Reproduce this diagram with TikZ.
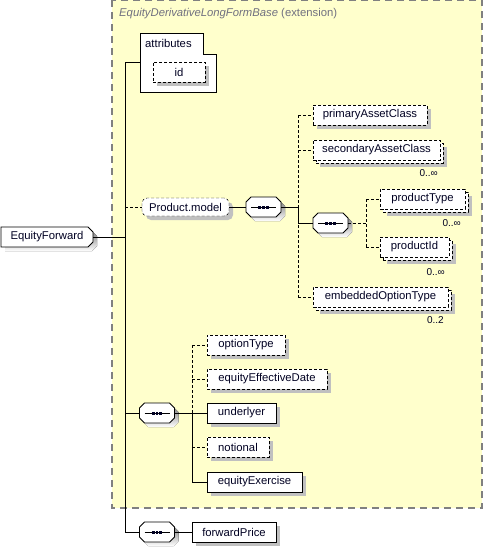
\documentclass[tikz,border=0pt]{standalone}
\usepackage{fontspec}
\setmainfont{Liberation Sans}
\usetikzlibrary{shadows}
\definecolor{shade}{HTML}{C0C0C0}
\definecolor{extfill}{HTML}{FFFFCC}
\definecolor{extline}{HTML}{808080}
\definecolor{titlegray}{HTML}{707080}
\definecolor{txt}{HTML}{000022}
\tikzset{
  base/.style={font=\fontsize{11.3}{13}\selectfont, text=txt, inner sep=0pt, minimum height=20pt},
  dotline/.style={dash pattern=on 3pt off 2pt},
  sh/.style={general shadow={fill=shade, shadow xshift=4pt, shadow yshift=-4pt}},
  elem/.style={base, rectangle, draw, fill=white, sh},
  optelem/.style={elem, dotline},
  multelem/.style={base, rectangle, draw, dotline, fill=white,
    general shadow={fill=shade, shadow xshift=7pt, shadow yshift=-7pt},
    general shadow={draw, dotline, fill=white, shadow xshift=3pt, shadow yshift=-3pt}},
  compbox/.style={base, rectangle, minimum width=35pt},
  outline/.style={draw, fill=white, line width=0.8pt},
  mult/.style={font=\fontsize{10}{12}\selectfont, text=txt, inner sep=0pt, anchor=east},
  conn/.style={line width=0.8pt},
  optconn/.style={conn, dotline}
}
% compositor (sequence) symbol: name, x, y
\newcommand\seqcomp[3]{%
  \begin{scope}[shift={(#2+4,#3+4)}]
    \fill[shade] (-12.5,-10) -- (12.5,-10) -- (17.5,-5) -- (17.5,5) -- (12.5,10) -- (-12.5,10) -- (-17.5,5) -- (-17.5,-5) -- cycle;
  \end{scope}
  \begin{scope}[shift={(#2,#3)}]
    \draw[outline] (-12.5,-10) -- (12.5,-10) -- (17.5,-5) -- (17.5,5) -- (12.5,10) -- (-12.5,10) -- (-17.5,5) -- (-17.5,-5) -- cycle;
    \draw[line width=0.8pt] (-12.5,0) -- (12.5,0);
    \foreach \d in {-3.7,0,3.7} \fill[txt] (\d-1.4,-1.5) rectangle (\d+1.4,1.5);
    \node[compbox] (#1) at (0,0) {};
  \end{scope}}
\begin{document}
\begin{tikzpicture}[x=1pt, y=-1pt]
\useasboundingbox (0,0) rectangle (485,549);
% extension area
\draw[extline, fill=extfill, line width=1.5pt, dash pattern=on 7pt off 5pt] (112,0) rectangle (482,508);
\node[anchor=west, text=titlegray, font=\fontsize{11.3}{13}\selectfont, inner sep=0pt] (title) at (119,14)
  {\textit{EquityDerivativeLongFormBase} (extension)};

% attributes
\draw[outline] (140,33) -- (203,33) -- (203,54) -- (216,54) -- (216,92) -- (140,92) -- cycle;
\node[anchor=west, font=\fontsize{11.3}{13}\selectfont, text=txt, inner sep=0pt] (attrlbl) at (145,43) {attributes};
\coordinate (attrL) at (140,62);
\node[optelem, minimum width=52pt] (id) at (179,72) {id};

% root
\fill[shade] (5,231) -- (92,231) -- (97,236) -- (97,246) -- (92,251) -- (5,251) -- cycle;
\draw[outline] (1,227) -- (88,227) -- (93,232) -- (93,242) -- (88,247) -- (1,247) -- cycle;
\node[base, minimum width=92pt] (EF) at (47,237) {EquityForward};

% Product.model group
\node[base, draw, fill=white, sh, dotline, rounded corners=5pt, minimum width=87pt, minimum height=18pt] (PM) at (185.5,207) {Product.model};
\seqcomp{C1}{263.5}{207}
\node[optelem, minimum width=114pt] (PAC) at (370,115) {primaryAssetClass};
\node[multelem, minimum width=127pt] (SAC) at (376.5,150) {secondaryAssetClass};
\seqcomp{C2}{330.5}{223}
\node[multelem, minimum width=85pt] (PT) at (422.5,199) {productType};
\node[multelem, minimum width=69pt] (PI) at (414.5,247) {productId};
\node[multelem, minimum width=135pt] (EOT) at (380.5,297) {embeddedOptionType};
\node[mult] (mSAC) at (438,173) {0..∞};
\node[mult] (mPT) at (461,223) {0..∞};
\node[mult] (mPI) at (445,272) {0..∞};
\node[mult] (mEOT) at (444,320) {0..2};

% second sequence
\seqcomp{C3}{157}{413}
\node[optelem, minimum width=78pt] (OT) at (246,345) {optionType};
\node[optelem, minimum width=120pt] (EED) at (267,379) {equityEffectiveDate};
\node[elem, minimum width=69pt] (UN) at (241.5,413) {underlyer};
\node[optelem, minimum width=62pt] (NO) at (238,447) {notional};
\node[elem, minimum width=95pt] (EE) at (254.5,482) {equityExercise};

% third sequence
\seqcomp{C4}{157}{532}
\node[elem, minimum width=84pt] (FP) at (234,532) {forwardPrice};

% junctions
\coordinate (J0top) at (125,62);
\coordinate (J0bot) at (125,532);
\coordinate (J1) at (298,207);
\coordinate (J2) at (366,223);
\coordinate (J3) at (192,413);

% main trunk
\draw[conn] (attrL) -- (J0top) -- (J0bot) -- (C4.west);
\draw[conn] (EF.east) -- (EF.east -| J0top);
\draw[optconn] (PM.west -| J0top) -- (PM.west);
\draw[conn] (C3.west -| J0top) -- (C3.west);

% Product.model branch
\draw[conn] (PM.east) -- (C1.west);
\draw[conn] (C1.east) -- (J1);
\draw[optconn] (PAC.west -| J1) -- (EOT.west -| J1);
\draw[optconn] (PAC.west -| J1) -- (PAC.west);
\draw[optconn] (SAC.west -| J1) -- (SAC.west);
\draw[optconn] (EOT.west -| J1) -- (EOT.west);
\draw[conn] (J1) -- (C2.west -| J1) -- (C2.west);
\draw[optconn] (C2.east) -- (J2);
\draw[optconn] (PT.west -| J2) -- (PI.west -| J2);
\draw[optconn] (PT.west -| J2) -- (PT.west);
\draw[optconn] (PI.west -| J2) -- (PI.west);

% second sequence branch
\draw[conn] (C3.east) -- (J3);
\draw[optconn] (OT.west -| J3) -- (J3);
\draw[optconn] (OT.west -| J3) -- (OT.west);
\draw[optconn] (EED.west -| J3) -- (EED.west);
\draw[conn] (J3) -- (EE.west -| J3) -- (EE.west);
\draw[conn] (J3) -- (UN.west);
\draw[optconn] (NO.west -| J3) -- (NO.west);

% third branch
\draw[conn] (C4.east) -- (FP.west);
\end{tikzpicture}
\end{document}
